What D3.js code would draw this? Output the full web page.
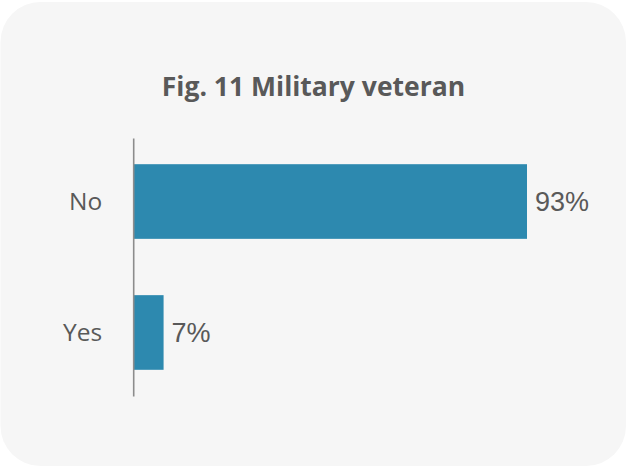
<!DOCTYPE html>
<html>
<head>
<meta charset="utf-8">
<script src="https://cdn.jsdelivr.net/npm/d3@7"></script>
<style>
  html, body { margin: 0; padding: 0; background: #ffffff; }
  svg { display: block; }
</style>
</head>
<body>
<svg id="chart" width="627" height="468"></svg>
<script>
// Survey answers and their shares (percent)
const categories = ["No", "Yes"];
const values = [93, 7];
const title = "Fig. 11 Military veteran";

const W = 627, H = 468;
const svg = d3.select("#chart");

// Card background
svg.append("rect")
  .attr("x", 0.5).attr("y", 2)
  .attr("width", W - 1.5).attr("height", H - 4)
  .attr("rx", 40).attr("ry", 40)
  .attr("fill", "#f6f6f6");

// Title
svg.append("text")
  .attr("x", W / 2).attr("y", 96)
  .attr("text-anchor", "middle")
  .attr("font-family", "'Open Sans', sans-serif")
  .attr("font-weight", 700)
  .attr("font-size", 26.5)
  .attr("fill", "#595959")
  .text(title);

const x0 = 134;
const x = d3.scaleLinear().domain([0, 93]).range([x0, 527]);
const y = d3.scaleBand().domain(categories).range([138, 396]).paddingInner(0.43).paddingOuter(0.2);

// Bars
svg.append("g").selectAll("rect")
  .data(categories)
  .join("rect")
  .attr("x", x(0))
  .attr("y", d => y(d))
  .attr("width", (d, i) => x(values[i]) - x(0))
  .attr("height", y.bandwidth())
  .attr("fill", "#2d89af");

// Category axis
const axis = svg.append("g")
  .attr("transform", `translate(${x0 - 0.8},0)`)
  .call(d3.axisLeft(y).tickSize(0).tickPadding(31));
axis.select(".domain").attr("stroke", "#8c8c8c").attr("stroke-width", 1.6);
axis.selectAll(".tick text")
  .attr("font-family", "'Open Sans', sans-serif")
  .attr("font-size", 24.5)
  .attr("dy", "0.34em")
  .attr("fill", "#595959");

// Value labels
svg.append("g").selectAll("text")
  .data(categories)
  .join("text")
  .attr("x", (d, i) => x(values[i]) + 8)
  .attr("y", d => y(d) + y.bandwidth() / 2)
  .attr("dy", "0.36em")
  .attr("font-family", "'Liberation Sans', Arial, sans-serif")
  .attr("font-size", 27)
  .attr("fill", "#595959")
  .text((d, i) => values[i] + "%");
</script>
</body>
</html>
